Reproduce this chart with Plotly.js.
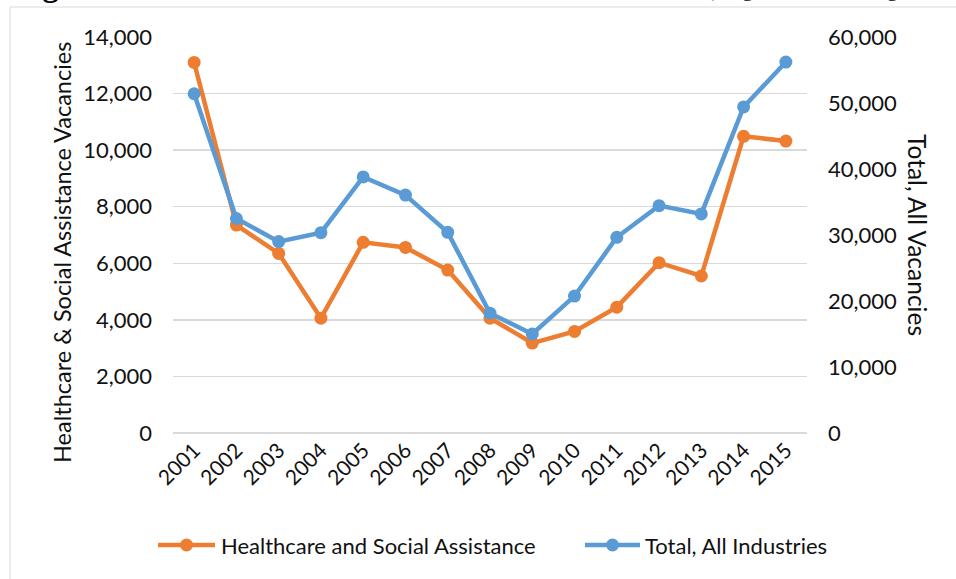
<!DOCTYPE html>
<html>
<head>
<meta charset="utf-8">
<script src="https://cdn.plot.ly/plotly-3.0.1.min.js"></script>
<style>
  html, body { margin: 0; padding: 0; background: #fff; overflow: hidden; }
  #chart { width: 956px; height: 579px; }
</style>
</head>
<body>
<div id="chart"></div>
<script>
// Annual job vacancies, healthcare sector vs. all industries
const years = ['2001', '2002', '2003', '2004', '2005', '2006', '2007', '2008',
               '2009', '2010', '2011', '2012', '2013', '2014', '2015'];
const healthcareVacancies = [13100, 7350, 6350, 4060, 6740, 6560, 5760, 4060,
                             3180, 3590, 4450, 6020, 5550, 10490, 10320];
const totalVacancies = [51400, 32500, 29000, 30350, 38800, 36050, 30400, 18150,
                        15000, 20750, 29650, 34450, 33200, 49400, 56200];
const seriesNames = ['Healthcare and Social Assistance', 'Total, All Industries'];
const seriesColors = ['#ED7D31', '#5B9BD5'];
const leftAxisTitle = 'Healthcare & Social Assistance Vacancies';
const rightAxisTitle = 'Total, All Vacancies';
const figureTitle = 'Figure 4: Healthcare & Social Assistance Vacancies, Q1 2001 – Q1 2015';

// page geometry (pixels)
const W = 956, H = 579;
const M = { l: 173, r: 149, t: 37, b: 146 };
const plotW = W - M.l - M.r, plotH = H - M.t - M.b;
const px = x => (x - M.l) / plotW;          // page x -> paper x
const py = y => (H - M.b - y) / plotH;      // page y -> paper y

const FONT = 'Lato, "Open Sans", sans-serif';
const TEXT = '#111111';

const traces = [
  {
    x: years, y: healthcareVacancies, name: seriesNames[0], yaxis: 'y',
    type: 'scatter', mode: 'lines+markers',
    line: { color: seriesColors[0], width: 4.5 },
    marker: { color: seriesColors[0], size: 13 }
  },
  {
    x: years, y: totalVacancies, name: seriesNames[1], yaxis: 'y2',
    type: 'scatter', mode: 'lines+markers',
    line: { color: seriesColors[1], width: 4.5 },
    marker: { color: seriesColors[1], size: 13 }
  }
];

// legend drawn as line + dot + label, laid out horizontally under the axis
const legendY = py(545);
const legendItems = [
  { x0: 158, x1: 215, tx: 219 },
  { x0: 585, x1: 640, tx: 643 }
];
const shapes = [
  // outer chart frame
  { type: 'rect', xref: 'paper', yref: 'paper',
    x0: px(10), x1: px(1100), y0: py(700), y1: py(7),
    line: { color: '#d9d9d9', width: 1 }, fillcolor: 'rgba(0,0,0,0)', layer: 'below' }
];
const annotations = [
  { text: leftAxisTitle, xref: 'paper', yref: 'paper', x: px(62), y: py(253),
    xanchor: 'center', yanchor: 'middle',
    textangle: -90, showarrow: false, font: { family: FONT, size: 23.5, color: TEXT } },
  { text: rightAxisTitle, xref: 'paper', yref: 'paper', x: px(918), y: py(235),
    xanchor: 'center', yanchor: 'middle',
    textangle: 90, showarrow: false, font: { family: FONT, size: 24.5, color: TEXT } },
  { text: figureTitle, xref: 'paper', yref: 'paper', x: px(12), y: py(5),
    xanchor: 'left', yanchor: 'bottom', showarrow: false,
    font: { family: '"Liberation Serif", serif', size: 32, weight: 'bold', color: '#000' } }
];
legendItems.forEach((it, i) => {
  shapes.push({ type: 'line', xref: 'paper', yref: 'paper',
    x0: px(it.x0), x1: px(it.x1), y0: legendY, y1: legendY,
    line: { color: seriesColors[i], width: 4.5 } });
  shapes.push({ type: 'circle', xref: 'paper', yref: 'paper',
    xsizemode: 'pixel', ysizemode: 'pixel',
    xanchor: px((it.x0 + it.x1) / 2), yanchor: legendY,
    x0: -6.5, x1: 6.5, y0: -6.5, y1: 6.5,
    fillcolor: seriesColors[i], line: { width: 0 } });
  annotations.push({ text: seriesNames[i], xref: 'paper', yref: 'paper',
    x: px(it.tx), y: legendY, xanchor: 'left', yanchor: 'middle', showarrow: false,
    font: { family: FONT, size: 22, color: TEXT } });
});

const layout = {
  width: W, height: H,
  margin: M,
  paper_bgcolor: '#ffffff', plot_bgcolor: '#ffffff',
  font: { family: FONT, size: 22, color: TEXT },
  showlegend: false,
  xaxis: {
    type: 'category', range: [-0.5, years.length - 0.5],
    tickangle: -45, showgrid: false, showline: false, zeroline: false,
    ticks: '', tickfont: { family: FONT, size: 21, color: TEXT }
  },
  yaxis: {
    range: [0, 14000], dtick: 2000, tick0: 0, tickformat: ',d',
    showgrid: true, gridcolor: '#d9d9d9', gridwidth: 1.3,
    zeroline: true, zerolinecolor: '#d9d9d9', zerolinewidth: 1.3,
    showline: false, ticks: '', ticklabelstandoff: 20,
    tickfont: { family: FONT, size: 22, color: TEXT }
  },
  yaxis2: {
    overlaying: 'y', side: 'right',
    range: [0, 60000], dtick: 10000, tick0: 0, tickformat: ',d',
    showgrid: false, zeroline: false, showline: false, ticks: '',
    ticklabelstandoff: 20,
    tickfont: { family: FONT, size: 22, color: TEXT }
  },
  shapes: shapes,
  annotations: annotations
};

Plotly.newPlot('chart', traces, layout, { staticPlot: true, displayModeBar: false });
</script>
</body>
</html>
